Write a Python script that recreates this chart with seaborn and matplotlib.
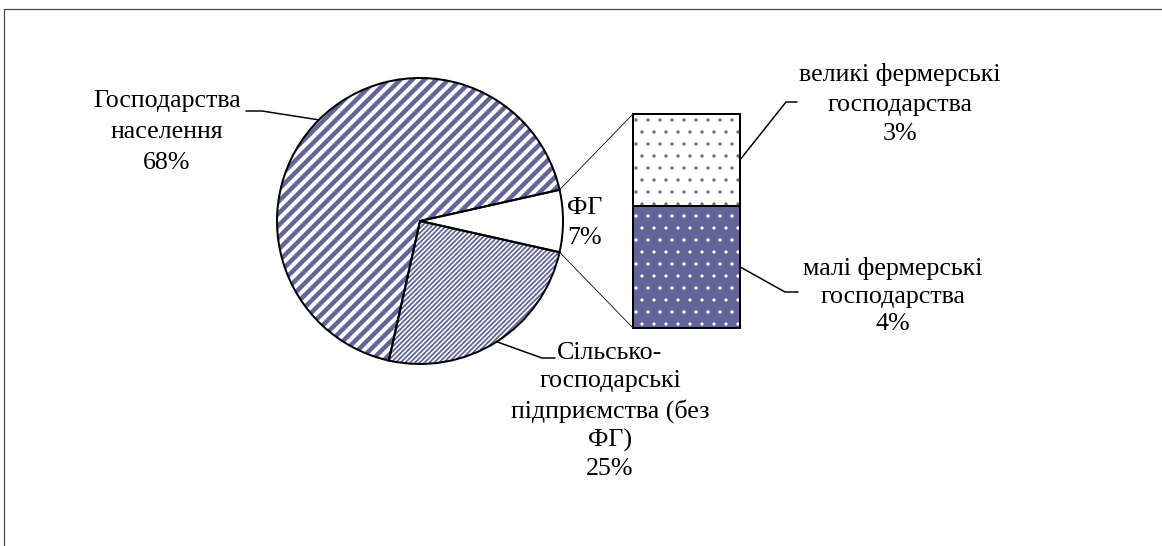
import numpy as np
import matplotlib.pyplot as plt
import seaborn as sns

# data
pie_names = ["ФГ", "Сільсько-\nгосподарські\nпідприємства (без\nФГ)", "Господарства\nнаселення"]
pie_values = [7, 25, 68]
fg_names = ["малі фермерські\nгосподарства", "великі фермерські\nгосподарства"]
fg_values = [4, 3]

sns.set_theme(style="white")
plt.rcParams["font.family"] = ["Liberation Serif", "DejaVu Serif"]
plt.rcParams["hatch.linewidth"] = 1.0

W, H, DPI = 1162, 546, 72
purple = "#62649A"


def py(y):
    # pixel row from top -> data y
    return H - y


fig = plt.figure(figsize=(W / DPI, H / DPI), dpi=DPI)
ax = fig.add_axes([0, 0, 1, 1])

cx, cy, r = 420, py(221), 143
start = 360 * pie_values[0] / sum(pie_values) / 2

# hatched wedges (no outline), then black outlines on top
hatches = [None, "/////", "//"]
hatch_lw = [1, 1.8, 4.5]
wedges, _ = ax.pie(pie_values, center=(cx, cy), radius=r, startangle=start,
                   counterclock=False, colors=["white"] * 3,
                   wedgeprops=dict(linewidth=0, edgecolor=purple))
for w, h, lw in zip(wedges, hatches, hatch_lw):
    if h:
        w.set_hatch(h)
        if hasattr(w, "set_hatch_linewidth"):
            w.set_hatch_linewidth(lw)
outline, _ = ax.pie(pie_values, center=(cx, cy), radius=r, startangle=start,
                    counterclock=False,
                    wedgeprops=dict(linewidth=2, edgecolor="black", fill=False))

# bar of the FG split
bx, bw = 686.5, 107
bar_bottom, bar_h = py(328), 214
scale = bar_h / sum(fg_values)
heights = [v * scale for v in fg_values]
bottoms = [bar_bottom, bar_bottom + heights[0]]
bars_fill = ax.bar([bx, bx], heights, bottom=bottoms, width=bw,
                   color=[purple, "white"], edgecolor=["white", purple],
                   linewidth=0, hatch=".")
for b in bars_fill:
    if hasattr(b, "set_hatch_linewidth"):
        b.set_hatch_linewidth(0.8)
bars = ax.bar([bx, bx], heights, bottom=bottoms, width=bw, fill=False,
              edgecolor="black", linewidth=2)

# connectors from FG wedge edges to bar corners
fg = wedges[0]
t_hi, t_lo = max(fg.theta1, fg.theta2), min(fg.theta1, fg.theta2)
p_hi = (cx + r * np.cos(np.radians(t_hi)), cy + r * np.sin(np.radians(t_hi)))
p_lo = (cx + r * np.cos(np.radians(t_lo)), cy + r * np.sin(np.radians(t_lo)))
left = bx - bw / 2
ax.plot([p_hi[0], left], [p_hi[1], bottoms[0] + sum(heights)], color="black", lw=0.8)
ax.plot([p_lo[0], left], [p_lo[1], bottoms[0]], color="black", lw=0.8)


def mid_point(w):
    t = np.radians((w.theta1 + w.theta2) / 2)
    return cx + r * np.cos(t), cy + r * np.sin(t)


fs = 26
ls = 1.47
pct = [f"{v}%" for v in pie_values]

# Господарства населення
mx, my = mid_point(wedges[2])
ax.plot([mx, 262, 246], [my, py(111), py(111)], color="black", lw=1.5)
ax.text(167, py(132), pie_names[2] + "\n" + pct[2], ha="center", va="center",
        fontsize=fs, linespacing=ls * 1.03, color="black")

# Сільськогосподарські підприємства
mx, my = mid_point(wedges[1])
ax.plot([mx, 542, 555], [my, py(358), py(358)], color="black", lw=1.5)
ax.text(610, py(411), pie_names[1] + "\n" + pct[1], ha="center", va="center",
        fontsize=fs, linespacing=ls * 0.93, color="black")

# ФГ
ax.text(585, py(223), pie_names[0] + "\n" + pct[0], ha="center", va="center",
        fontsize=fs, linespacing=ls * 0.97, color="black")

# bar labels
right = bx + bw / 2
b_small, b_big = bars[0], bars[1]
y_small = b_small.get_y() + b_small.get_height() / 2
y_big = b_big.get_y() + b_big.get_height() / 2
ax.plot([right, 786, 797], [y_big, py(102), py(102)], color="black", lw=1.5)
ax.plot([right, 785, 798], [y_small, py(292), py(292)], color="black", lw=1.5)
ax.text(900, py(104), fg_names[1] + "\n" + f"{fg_values[1]}%", ha="center",
        va="center", fontsize=fs, linespacing=ls, color="black")
ax.text(893, py(296), fg_names[0] + "\n" + f"{fg_values[0]}%", ha="center",
        va="center", fontsize=fs, linespacing=ls * 0.9, color="black")

# chart frame (cut by the image edge on the right and bottom)
ax.plot([3.5, 3.5, W + 10], [-10, py(9), py(9)], color="#444444", lw=1.2,
        clip_on=False)

ax.set_xlim(0, W)
ax.set_ylim(0, H)
ax.set_aspect("equal", adjustable="box")
ax.axis("off")

fig.savefig("out.png", dpi=DPI, facecolor="white")
